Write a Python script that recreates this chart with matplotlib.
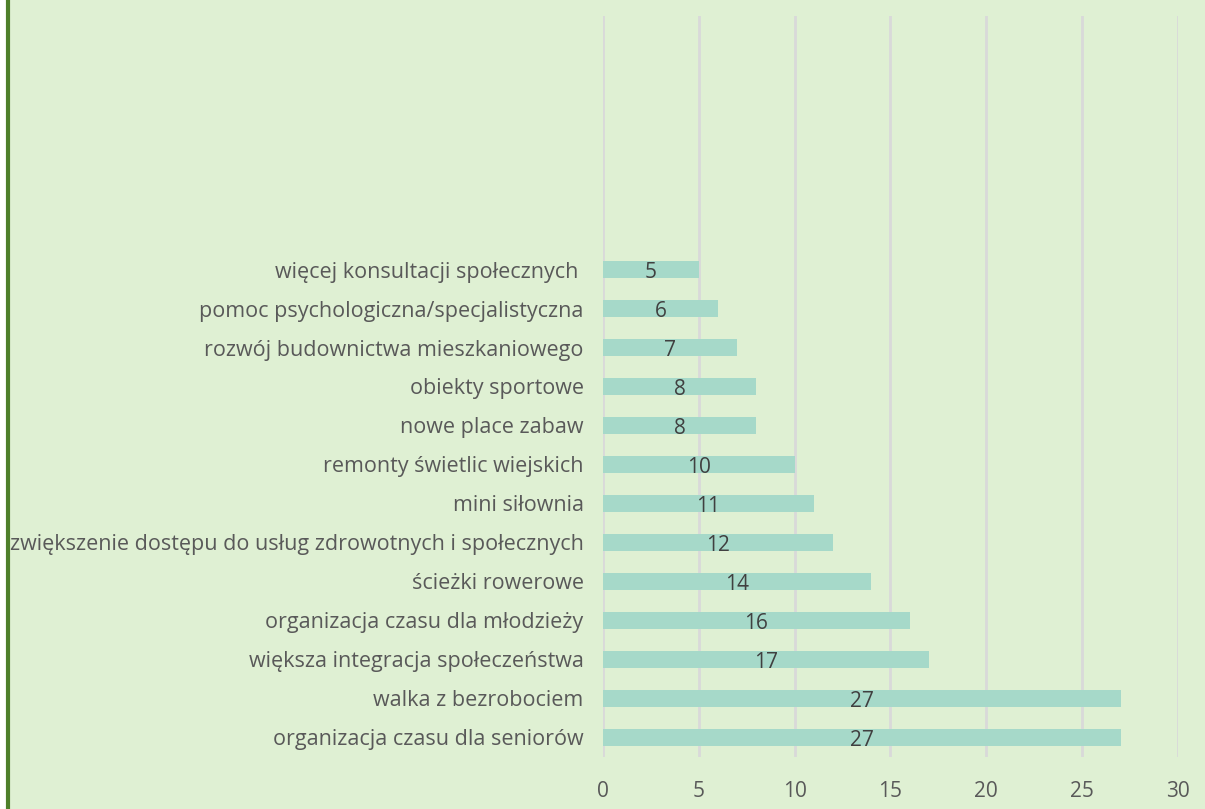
import matplotlib.pyplot as plt
from matplotlib.patches import Rectangle
from matplotlib.lines import Line2D

categories = ['organizacja czasu dla seniorów', 'walka z bezrobociem',
              'większa integracja społeczeństwa', 'organizacja czasu dla młodzieży',
              'ścieżki rowerowe', 'zwiększenie dostępu do usług zdrowotnych i społecznych',
              'mini siłownia', 'remonty świetlic wiejskich', 'nowe place zabaw',
              'obiekty sportowe', 'rozwój budownictwa mieszkaniowego',
              'pomoc psychologiczna/specjalistyczna', 'więcej konsultacji społecznych ']
values = [27, 27, 17, 16, 14, 12, 11, 10, 8, 8, 7, 6, 5]
xticks = [0, 5, 10, 15, 20, 25, 30]

bg = '#DFF0D3'
plt.rcParams['font.family'] = ['Open Sans', 'DejaVu Sans']

fig = plt.figure(figsize=(12.05, 8.09), dpi=100)
fig.patch.set_facecolor(bg)
fig.add_artist(Rectangle((0, 0), 7 / 1205, 1, transform=fig.transFigure, color='white', zorder=0))
fig.add_artist(Line2D([8 / 1205, 8 / 1205], [0, 1], transform=fig.transFigure, color='#4E7F2A', lw=3))

ax = fig.add_axes([0.5004, 0.0643, 0.4772, 0.9159])
ax.set_facecolor(bg)
y = range(len(categories))
bars = ax.barh(y, values, height=0.44, color='#A6D9C9', zorder=3)
for i, v in enumerate(values):
    ax.text(v / 2, i - 0.08, str(v), ha='center', va='center', fontsize=15, color='#404040', zorder=4)

ax.set_xlim(0, 30)
ax.set_ylim(-0.5, 18.5)
ax.set_xticks(xticks)
ax.set_yticks(list(y))
ax.set_yticklabels(categories, fontsize=15.5)
ax.tick_params(length=0, labelsize=15, colors='#595959')
ax.tick_params(axis='y', pad=14, labelsize=15.5)
ax.tick_params(axis='x', pad=17)
ax.grid(axis='x', color='#D9D9D9', lw=2, zorder=0)
for s in ax.spines.values():
    s.set_visible(False)

plt.savefig('out.png', dpi=100, facecolor=bg)
